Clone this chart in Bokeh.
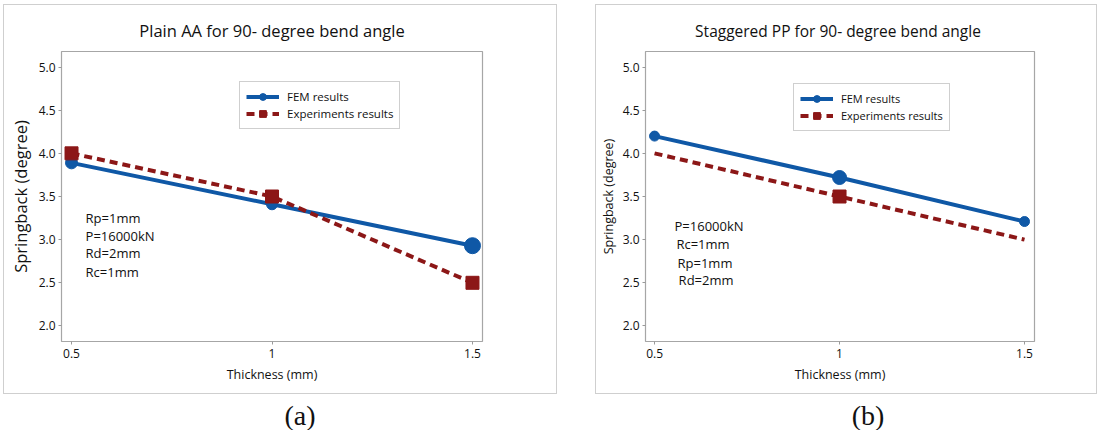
from bokeh.plotting import figure
from bokeh.models import (FixedTicker, Legend, LegendItem, Label, ColumnDataSource,
                          Range1d, Div, Spacer)
from bokeh.layouts import row, column
from bokeh.embed import file_html
from bokeh.resources import INLINE

# ---------------- data ----------------
thickness = [0.5, 1.0, 1.5]
x_tick_labels = ["0.5", "1", "1.5"]
y_ticks = [2.0, 2.5, 3.0, 3.5, 4.0, 4.5, 5.0]
y_tick_labels = ["2.0", "2.5", "3.0", "3.5", "4.0", "4.5", "5.0"]

fem_a = [3.89, 3.41, 2.93]
exp_a = [4.0, 3.5, 2.5]
fem_b = [4.20, 3.72, 3.21]
exp_b = [4.0, 3.5, 3.0]

title_a = "Plain AA for 90- degree bend angle"
title_b = "Staggered PP  for 90- degree bend angle"
notes_a = ["Rp=1mm", "P=16000kN", "Rd=2mm", "Rc=1mm"]
notes_b = ["P=16000kN", "Rc=1mm", "Rp=1mm", "Rd=2mm"]
series_names = ["FEM results", "Experiments results"]
captions = ["(a)", "(b)"]

# ---------------- styles ----------------
BLUE = "#0F58A6"
RED = "#8C1717"
FONT = "Open Sans"
fem_a_sizes = [12, 11, 16]
exp_a_sizes = [13, 13, 13]
fem_b_sizes = [10, 14, 10]
exp_b_sizes = [0, 13, 0]


def make_panel(width, fem, exp, fem_sizes, exp_sizes, title, notes, note_pos,
               mb_left, mb_right, xr, title_size, ylab_size, ylab_standoff,
               legend_loc, legend_font):
    p = figure(width=width, height=390, output_backend="svg", toolbar_location=None,
               x_range=Range1d(*xr), y_range=Range1d(1.82, 5.18),
               min_border_left=mb_left, min_border_right=mb_right,
               min_border_top=46, min_border_bottom=54,
               title=title,
               styles={"border": "1px solid #cfcfcf", "box-sizing": "border-box"})
    p.title.text_font = FONT
    p.title.text_font_size = title_size
    p.title.text_font_style = "normal"
    p.title.align = "center"
    p.title.text_color = "#111111"
    p.title.standoff = 20

    p.xgrid.visible = False
    p.ygrid.visible = False
    p.outline_line_color = "#a6a6a6"
    p.outline_line_width = 1.2

    for ax in (p.xaxis[0], p.yaxis[0]):
        ax.axis_line_color = None
        ax.minor_tick_line_color = None
        ax.major_tick_in = 0
        ax.major_tick_out = 3
        ax.major_tick_line_color = "#9a9a9a"
        ax.major_label_text_font = FONT
        ax.major_label_text_font_size = "12px"
        ax.major_label_text_color = "#111111"
        ax.axis_label_text_font = FONT
        ax.axis_label_text_font_style = "normal"
        ax.axis_label_text_color = "#111111"
        ax.major_label_standoff = 3

    p.xaxis.ticker = FixedTicker(ticks=thickness)
    p.xaxis.major_label_overrides = {t: l for t, l in zip(thickness, x_tick_labels)}
    p.xaxis.axis_label = "Thickness (mm)"
    p.xaxis.axis_label_text_font_size = "12.5px"
    p.xaxis.axis_label_standoff = 5
    p.xaxis.major_label_standoff = 4

    p.yaxis.ticker = FixedTicker(ticks=y_ticks)
    p.yaxis.major_label_overrides = {t: l for t, l in zip(y_ticks, y_tick_labels)}
    p.yaxis.axis_label = "Springback (degree)"
    p.yaxis.axis_label_text_font_size = ylab_size
    p.yaxis.axis_label_standoff = ylab_standoff

    src_f = ColumnDataSource(dict(x=thickness, y=fem, s=fem_sizes))
    src_e = ColumnDataSource(dict(x=thickness, y=exp, s=exp_sizes))

    lf = p.line("x", "y", source=src_f, line_color=BLUE, line_width=4)
    le = p.line("x", "y", source=src_e, line_color=RED, line_width=4, line_dash="8 5")
    sf = p.scatter("x", "y", source=src_f, marker="circle", size="s",
                   fill_color=BLUE, line_color=BLUE)
    se = p.scatter("x", "y", source=src_e, marker="square", size="s",
                   fill_color=RED, line_color=RED)

    for txt, (nx, ny) in zip(notes, note_pos):
        p.add_layout(Label(x=nx, y=ny, text=txt, text_font=FONT, text_font_size="13px",
                           text_color="#111111", text_baseline="middle"))

    legend = Legend(items=[LegendItem(label=series_names[0], renderers=[lf, sf]),
                           LegendItem(label=series_names[1], renderers=[le, se])],
                    location=legend_loc, orientation="vertical",
                    border_line_color="#a0a0a0", border_line_width=1,
                    background_fill_color="white", background_fill_alpha=1,
                    label_text_font=FONT, label_text_font_size=legend_font,
                    label_text_color="#111111",
                    glyph_width=33, glyph_height=17, label_height=17,
                    spacing=0, padding=6, margin=0, label_standoff=8)
    p.add_layout(legend, "center")
    return p


pos_a = [(0.535, 3.256), (0.535, 3.045), (0.535, 2.847), (0.535, 2.625)]
pos_b = [(0.554, 3.162), (0.559, 2.952), (0.562, 2.73), (0.565, 2.53)]

pa = make_panel(554, fem_a, exp_a, fem_a_sizes, exp_a_sizes, title_a, notes_a, pos_a,
                57, 76, (0.475, 1.525), "16.5px", "16.5px", 4, (178, 212), "11.5px")
pb = make_panel(502, fem_b, exp_b, fem_b_sizes, exp_b_sizes, title_b, notes_b, pos_b,
                47, 64, (0.4755, 1.527), "15.5px", "12.5px", 3, (148, 210), "11px")

cap_html = ('<div style="position:relative;width:1094px;height:36px;overflow:hidden;'
            'font-family:\'Liberation Serif\',\'Times New Roman\',serif;font-size:28px;'
            'line-height:28px;color:#111;">'
            '<span style="position:absolute;left:273px;top:8px;width:48px;text-align:center;">%s</span>'
            '<span style="position:absolute;left:841px;top:8px;width:48px;text-align:center;">%s</span>'
            '</div>') % (captions[0], captions[1])
cap = Div(text=cap_html, width=1094, height=36, margin=0)

layout = column(Spacer(width=1094, height=4),
                row(Spacer(width=3, height=390), pa, Spacer(width=38, height=390), pb),
                row(Spacer(width=3, height=36), cap))

with open("out.html", "w") as f:
    f.write(file_html(layout, INLINE))
